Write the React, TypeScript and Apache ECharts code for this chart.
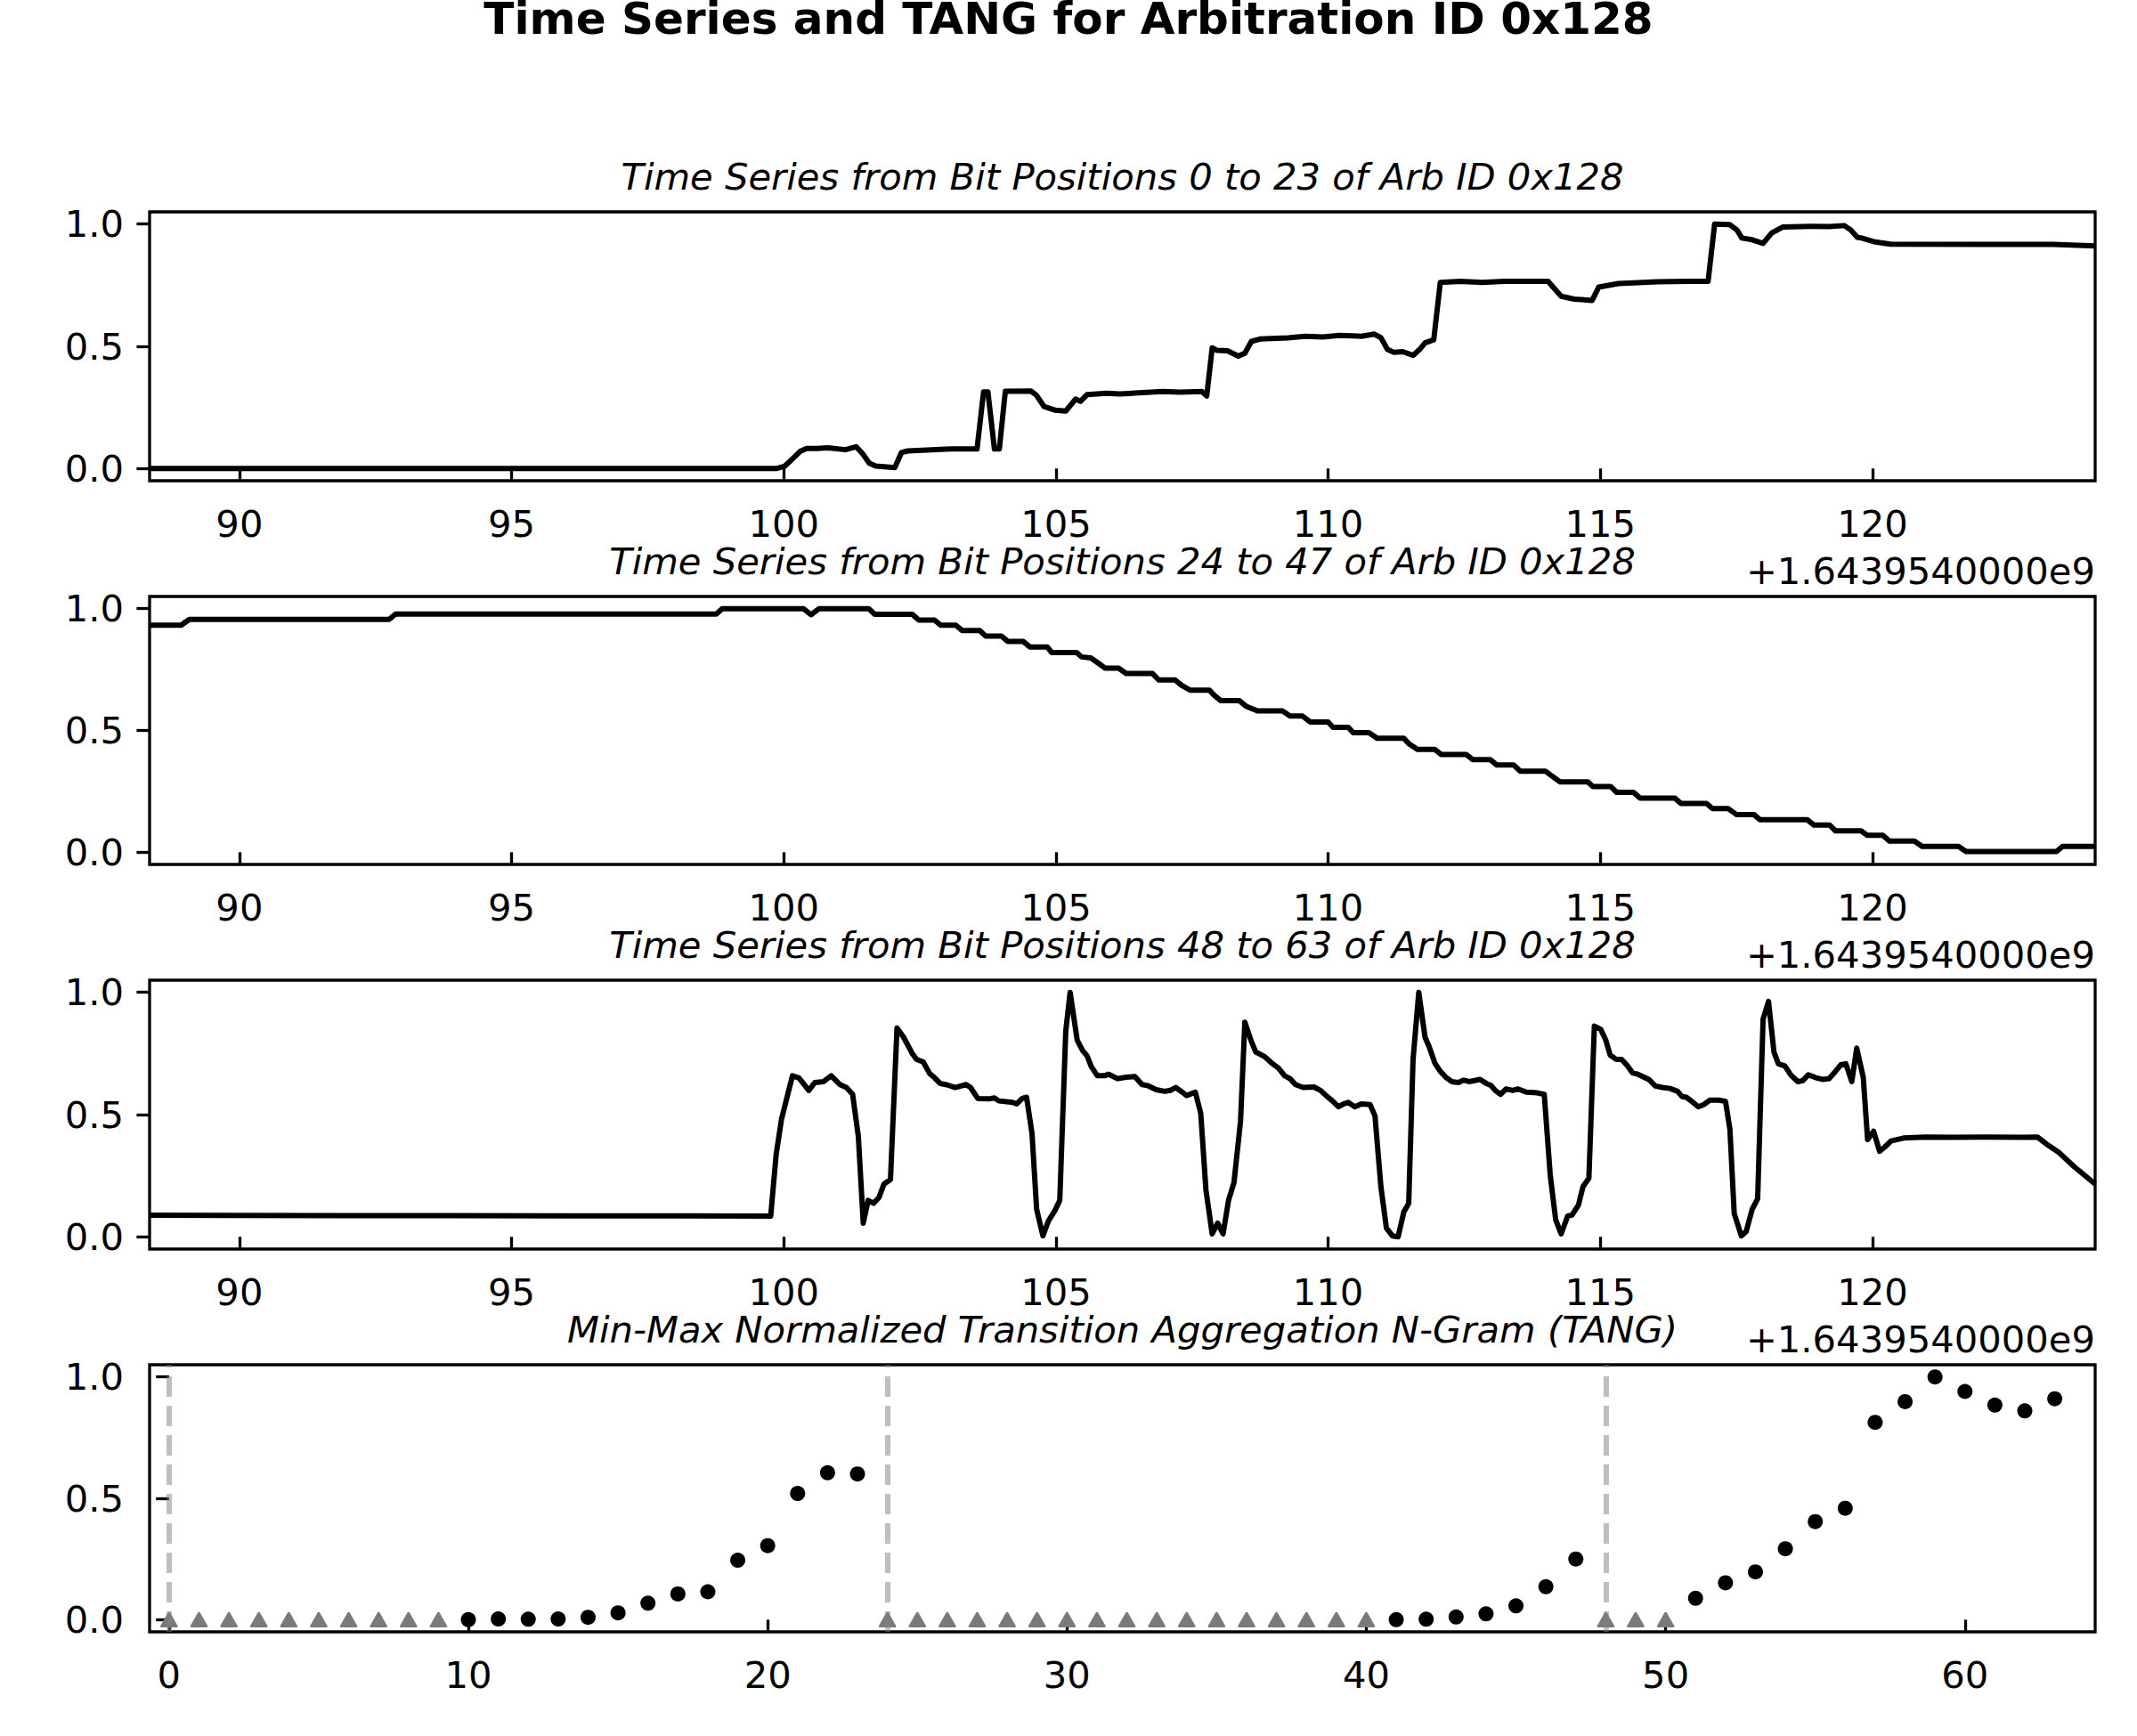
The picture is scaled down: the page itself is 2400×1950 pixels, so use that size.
import React, { useEffect, useRef } from "react";
import * as echarts from "echarts";

// Time offsets are seconds relative to the axis offset below.
const timeOffsetText = "+1.6439540000e9";
const timeTicks = [90, 95, 100, 105, 110, 115, 120];
const tangTicks = [0, 10, 20, 30, 40, 50, 60];
const valueTicks = [0, 0.5, 1.0];

const mainTitle = "Time Series and TANG for Arbitration ID 0x128";
const panelTitles = [
  "Time Series from Bit Positions 0 to 23 of Arb ID 0x128",
  "Time Series from Bit Positions 24 to 47 of Arb ID 0x128",
  "Time Series from Bit Positions 48 to 63 of Arb ID 0x128",
  "Min-Max Normalized Transition Aggregation N-Gram (TANG)",
];

// Bits 0-23 (normalised), [t, value]
const bits0to23: [number, number][] = [
  [88.35, 0], [99.86, 0], [100.02, 0.01], [100.14, 0.035], [100.3, 0.07], [100.42, 0.082],
  [100.61, 0.082], [100.81, 0.085], [101.13, 0.077], [101.33, 0.089], [101.45, 0.06],
  [101.57, 0.022], [101.69, 0.01], [102.04, 0.004], [102.16, 0.065], [102.28, 0.072],
  [103.07, 0.08], [103.55, 0.08], [103.67, 0.313], [103.75, 0.313], [103.87, 0.08],
  [103.96, 0.08], [104.07, 0.316], [104.54, 0.317], [104.64, 0.3], [104.78, 0.254],
  [104.98, 0.239], [105.18, 0.235], [105.36, 0.284], [105.45, 0.275], [105.57, 0.302],
  [105.93, 0.308], [106.17, 0.305], [106.96, 0.315], [107.28, 0.312], [107.68, 0.315],
  [107.77, 0.297], [107.87, 0.494], [107.95, 0.484], [108.15, 0.482], [108.35, 0.46],
  [108.47, 0.472], [108.59, 0.52], [108.75, 0.53], [109.26, 0.535], [109.58, 0.541],
  [109.9, 0.538], [110.21, 0.545], [110.61, 0.541], [110.85, 0.55], [110.97, 0.535],
  [111.09, 0.487], [111.21, 0.475], [111.37, 0.478], [111.56, 0.463], [111.68, 0.487],
  [111.78, 0.514], [111.94, 0.527], [112.06, 0.761], [112.43, 0.766], [112.83, 0.761],
  [113.23, 0.766], [114.04, 0.766], [114.28, 0.705], [114.52, 0.693], [114.85, 0.688],
  [114.97, 0.742], [115.33, 0.757], [116.05, 0.764], [116.62, 0.766], [116.98, 0.766],
  [117.1, 1.0], [117.38, 0.998], [117.51, 0.976], [117.6, 0.943], [117.79, 0.936],
  [117.99, 0.921], [118.15, 0.964], [118.35, 0.988], [118.88, 0.991], [119.2, 0.99],
  [119.48, 0.994], [119.6, 0.976], [119.72, 0.946], [119.8, 0.943], [120.05, 0.927],
  [120.33, 0.918], [122.1, 0.917], [123.31, 0.917], [124.09, 0.911],
];

// Bits 24-47 (normalised), [t, value]
const bits24to47: [number, number][] = [
  [88.35, 0.932], [88.93, 0.932], [89.08, 0.956], [92.75, 0.956], [92.87, 0.978],
  [98.76, 0.978], [98.87, 1.0], [100.36, 1.0], [100.5, 0.975], [100.65, 1.0], [101.56, 1.0],
  [101.67, 0.977], [102.36, 0.977], [102.48, 0.953], [102.77, 0.953], [102.88, 0.932],
  [103.16, 0.932], [103.28, 0.91], [103.6, 0.91], [103.71, 0.887], [104.0, 0.887],
  [104.12, 0.865], [104.4, 0.865], [104.52, 0.843], [104.84, 0.843], [104.92, 0.82],
  [105.38, 0.82], [105.47, 0.802], [105.64, 0.798], [105.78, 0.776], [105.9, 0.756],
  [106.15, 0.756], [106.29, 0.734], [106.77, 0.734], [106.89, 0.707], [107.19, 0.707],
  [107.31, 0.685], [107.47, 0.665], [107.82, 0.665], [107.91, 0.644], [108.03, 0.622],
  [108.37, 0.622], [108.49, 0.6], [108.7, 0.58], [109.16, 0.58], [109.3, 0.559],
  [109.53, 0.559], [109.67, 0.535], [110.0, 0.535], [110.09, 0.513], [110.37, 0.513],
  [110.46, 0.491], [110.75, 0.491], [110.9, 0.468], [111.39, 0.468], [111.48, 0.446],
  [111.64, 0.422], [111.96, 0.422], [112.08, 0.401], [112.54, 0.401], [112.66, 0.38],
  [112.98, 0.38], [113.1, 0.358], [113.41, 0.358], [113.53, 0.333], [113.99, 0.333],
  [114.11, 0.313], [114.26, 0.289], [114.77, 0.289], [114.86, 0.27], [115.19, 0.27],
  [115.3, 0.246], [115.61, 0.246], [115.73, 0.222], [116.37, 0.222], [116.48, 0.2],
  [116.95, 0.2], [117.06, 0.179], [117.35, 0.179], [117.5, 0.155], [117.82, 0.155],
  [117.93, 0.134], [118.8, 0.134], [118.92, 0.112], [119.21, 0.112], [119.32, 0.088],
  [119.79, 0.088], [119.9, 0.07], [120.19, 0.07], [120.31, 0.046], [120.77, 0.046],
  [120.91, 0.024], [121.58, 0.024], [121.72, 0.003], [123.38, 0.003], [123.49, 0.024],
  [124.09, 0.024],
];

// Bits 48-63 (normalised), [t, value]
const bits48to63: [number, number][] = [
  [88.35, 0.088], [92.0, 0.087], [96.0, 0.086], [99.76, 0.085], [99.86, 0.337],
  [99.96, 0.483], [100.16, 0.659], [100.28, 0.65], [100.46, 0.599], [100.57, 0.631],
  [100.73, 0.635], [100.87, 0.659], [101.03, 0.623], [101.15, 0.611], [101.265, 0.583],
  [101.37, 0.41], [101.46, 0.056], [101.55, 0.149], [101.65, 0.137], [101.75, 0.161],
  [101.84, 0.216], [101.96, 0.234], [102.08, 0.854], [102.2, 0.817], [102.36, 0.75],
  [102.44, 0.726], [102.56, 0.716], [102.68, 0.668], [102.77, 0.651], [102.875, 0.627],
  [102.995, 0.622], [103.15, 0.611], [103.35, 0.623], [103.43, 0.611], [103.565, 0.566],
  [103.79, 0.565], [103.87, 0.568], [103.95, 0.556], [104.2, 0.55], [104.28, 0.544],
  [104.38, 0.566], [104.46, 0.571], [104.56, 0.423], [104.645, 0.113], [104.76, 0.004],
  [104.86, 0.064], [104.98, 0.107], [105.07, 0.149], [105.18, 0.841], [105.26, 1.0],
  [105.39, 0.805], [105.49, 0.762], [105.57, 0.741], [105.65, 0.696], [105.76, 0.659],
  [105.89, 0.659], [105.97, 0.665], [106.13, 0.647], [106.29, 0.653], [106.45, 0.656],
  [106.58, 0.623], [106.68, 0.619], [106.84, 0.602], [107.0, 0.595], [107.1, 0.599],
  [107.2, 0.611], [107.32, 0.592], [107.4, 0.578], [107.56, 0.592], [107.66, 0.505],
  [107.755, 0.192], [107.87, 0.012], [107.97, 0.056], [108.07, 0.012], [108.17, 0.149],
  [108.27, 0.222], [108.39, 0.471], [108.47, 0.878], [108.59, 0.799], [108.67, 0.756],
  [108.84, 0.736], [108.98, 0.708], [109.09, 0.69], [109.2, 0.659], [109.3, 0.647],
  [109.4, 0.623], [109.54, 0.611], [109.74, 0.613], [109.86, 0.599], [109.98, 0.574],
  [110.07, 0.558], [110.19, 0.532], [110.29, 0.544], [110.37, 0.55], [110.49, 0.532],
  [110.61, 0.544], [110.77, 0.541], [110.86, 0.495], [110.97, 0.204], [111.07, 0.036],
  [111.18, 0.004], [111.285, 0.0], [111.39, 0.101], [111.48, 0.137], [111.56, 0.726],
  [111.665, 1.0], [111.78, 0.817], [111.86, 0.775], [111.96, 0.711], [112.06, 0.677],
  [112.17, 0.651], [112.27, 0.635], [112.39, 0.631], [112.49, 0.641], [112.59, 0.635],
  [112.79, 0.644], [112.91, 0.627], [112.99, 0.619], [113.07, 0.599], [113.17, 0.583],
  [113.27, 0.605], [113.39, 0.599], [113.49, 0.605], [113.64, 0.592], [113.84, 0.589],
  [113.97, 0.583], [114.08, 0.252], [114.18, 0.07], [114.28, 0.012], [114.4, 0.085],
  [114.48, 0.089], [114.6, 0.131], [114.68, 0.204], [114.79, 0.24], [114.89, 0.862],
  [115.01, 0.848], [115.1, 0.805], [115.18, 0.744], [115.29, 0.726], [115.39, 0.726],
  [115.49, 0.702], [115.59, 0.671], [115.69, 0.665], [115.89, 0.644], [116.01, 0.617],
  [116.14, 0.611], [116.28, 0.607], [116.42, 0.595], [116.5, 0.574], [116.58, 0.571],
  [116.68, 0.554], [116.8, 0.532], [116.9, 0.541], [117.01, 0.559], [117.18, 0.559],
  [117.3, 0.554], [117.38, 0.441], [117.46, 0.095], [117.59, 0.004], [117.68, 0.022],
  [117.79, 0.113], [117.89, 0.155], [117.99, 0.89], [118.09, 0.963], [118.19, 0.756],
  [118.27, 0.708], [118.39, 0.699], [118.51, 0.659], [118.63, 0.635], [118.72, 0.639],
  [118.82, 0.663], [118.96, 0.651], [119.08, 0.644], [119.2, 0.647], [119.32, 0.677],
  [119.42, 0.704], [119.51, 0.708], [119.62, 0.635], [119.71, 0.772], [119.83, 0.653],
  [119.91, 0.398], [120.02, 0.432], [120.13, 0.35], [120.23, 0.368], [120.34, 0.392],
  [120.57, 0.404], [120.97, 0.408], [121.46, 0.407], [122.1, 0.408], [122.75, 0.407],
  [123.03, 0.408], [123.23, 0.374], [123.43, 0.344], [123.71, 0.286], [124.09, 0.216],
];

// TANG per bit position; null = no transitions (drawn as a grey triangle at 0)
const tangValues: (number | null)[] = [
  null, null, null, null, null, null, null, null, null, null,
  0.0, 0.003, 0.002, 0.003, 0.01, 0.028, 0.068, 0.106, 0.115, 0.245,
  0.305, 0.52, 0.605, 0.6,
  null, null, null, null, null, null, null, null, null, null,
  null, null, null, null, null, null, null,
  0.0, 0.002, 0.011, 0.024, 0.057, 0.136, 0.25,
  null, null, null,
  0.088, 0.152, 0.197, 0.292, 0.404, 0.459, 0.813, 0.898, 1.0, 0.94,
  0.884, 0.86, 0.91,
];

// Bit positions where each time-series segment starts
const segmentStarts = [0, 24, 48];

const FONT = "DejaVu Sans";
const TICK_FONT = 41.7;
const AXIS_W = 3.3;

const grids = [
  { left: 168, top: 238, width: 2185, height: 302 },
  { left: 168, top: 670, width: 2185, height: 301 },
  { left: 168, top: 1101, width: 2185, height: 302 },
  { left: 168, top: 1533, width: 2185, height: 300 },
];

const tickStyle = { show: true, inside: false, length: 14.6, lineStyle: { color: "#000", width: AXIS_W } };
const labelStyle = { color: "#000", fontFamily: FONT, fontSize: TICK_FONT };

function xAxisFor(gridIndex: number, min: number, max: number, ticks: number[]) {
  return {
    type: "value",
    gridIndex,
    min,
    max,
    axisLine: { show: false },
    axisTick: { ...tickStyle, customValues: ticks },
    axisLabel: { ...labelStyle, margin: 27, customValues: ticks },
    splitLine: { show: false },
  };
}

function yAxisFor(gridIndex: number) {
  return {
    type: "value",
    gridIndex,
    min: -0.05,
    max: 1.05,
    axisLine: { show: false },
    axisTick: { ...tickStyle, customValues: valueTicks },
    axisLabel: {
      ...labelStyle,
      margin: 29,
      customValues: valueTicks,
      formatter: (v: number) => v.toFixed(1),
    },
    splitLine: { show: false },
  };
}

function lineSeries(i: number, data: [number, number][]) {
  return {
    type: "line",
    xAxisIndex: i,
    yAxisIndex: i,
    data,
    showSymbol: false,
    symbol: "none",
    lineStyle: { color: "#000", width: 6, join: "round", cap: "butt" },
    z: 3,
  };
}

function textEl(text: string, x: number, y: number, font: string, align: string) {
  return {
    type: "text",
    x,
    y,
    silent: true,
    style: {
      text,
      font,
      fill: "#000",
      align,
      textAlign: align,
      verticalAlign: "middle",
      textVerticalAlign: "middle",
    },
  };
}

export default function App() {
  const ref = useRef<HTMLDivElement>(null);

  useEffect(() => {
    if (!ref.current) return;
    const chart = echarts.init(ref.current, undefined, { renderer: "svg" });

    const dots: [number, number][] = [];
    const empty: [number, number][] = [];
    tangValues.forEach((v, i) => {
      if (v === null) empty.push([i, 0]);
      else dots.push([i, v]);
    });

    const titleFont = `italic ${TICK_FONT}px "${FONT}"`;
    const graphic: any[] = [
      textEl(mainTitle, 1200, 21, `bold 50px "${FONT}"`, "center"),
      ...panelTitles.map((t, i) => textEl(t, grids[i].left + grids[i].width / 2, grids[i].top - 40, titleFont, "center")),
      ...[0, 1, 2].map((i) =>
        textEl(timeOffsetText, grids[i].left + grids[i].width, grids[i].top + grids[i].height + 101, `${TICK_FONT}px "${FONT}"`, "right")
      ),
    ];

    chart.setOption({
      animation: false,
      backgroundColor: "#fff",
      grid: grids.map((g) => ({ ...g, show: true, borderColor: "#000", borderWidth: AXIS_W, backgroundColor: "transparent" })),
      xAxis: [
        xAxisFor(0, 88.35, 124.09, timeTicks),
        xAxisFor(1, 88.35, 124.09, timeTicks),
        xAxisFor(2, 88.35, 124.09, timeTicks),
        xAxisFor(3, -0.65, 64.35, tangTicks),
      ],
      yAxis: [yAxisFor(0), yAxisFor(1), yAxisFor(2), yAxisFor(3)],
      series: [
        lineSeries(0, bits0to23),
        lineSeries(1, bits24to47),
        lineSeries(2, bits48to63),
        {
          type: "scatter",
          xAxisIndex: 3,
          yAxisIndex: 3,
          data: empty,
          symbol: "triangle",
          symbolSize: [17, 15],
          itemStyle: { color: "#7a7a7a", opacity: 1, borderColor: "#7a7a7a", borderWidth: 2.5, borderJoin: "round" },
          z: 2,
          markLine: {
            silent: true,
            symbol: ["none", "none"],
            label: { show: false },
            lineStyle: { color: "rgba(128,128,128,0.5)", width: 6, type: [23, 10], opacity: 1 },
            data: segmentStarts.map((x) => ({ xAxis: x })),
          },
        },
        {
          type: "scatter",
          xAxisIndex: 3,
          yAxisIndex: 3,
          data: dots,
          symbol: "circle",
          symbolSize: 17,
          itemStyle: { color: "#000", opacity: 1 },
          z: 4,
        },
      ],
      graphic,
    });

    return () => chart.dispose();
  }, []);

  return (
    <div
      ref={ref}
      style={{ position: "fixed", left: 0, top: 0, width: 2400, height: 1950, background: "#fff" }}
    />
  );
}
